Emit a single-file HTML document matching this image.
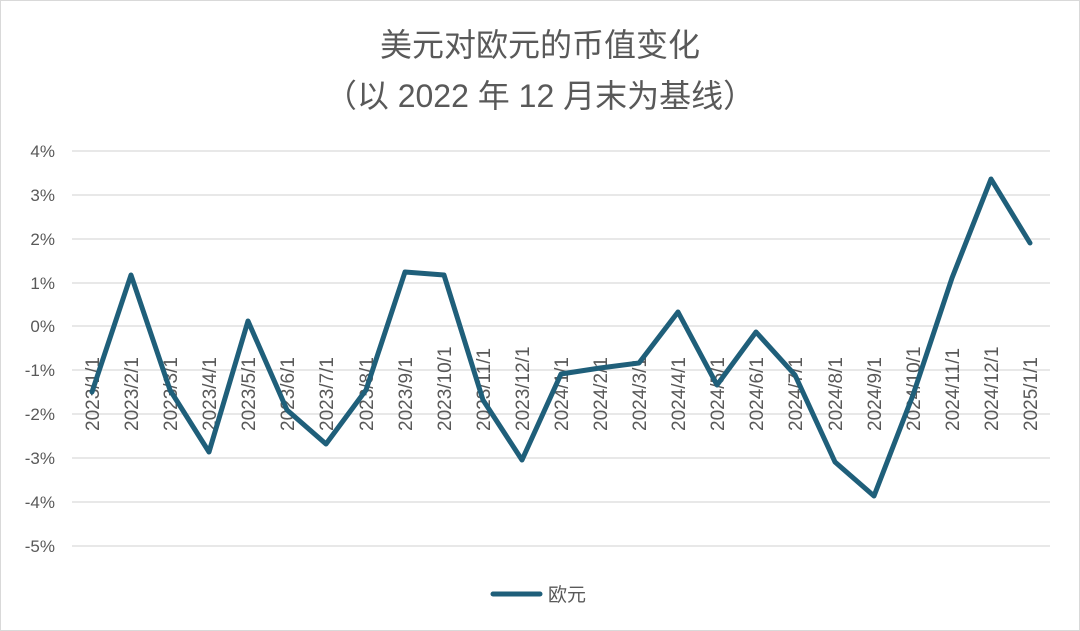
<!DOCTYPE html>
<html><head><meta charset="utf-8"><style>
html,body{margin:0;padding:0;background:#fff}
svg{display:block}
text{font-family:"Liberation Sans","Noto Sans CJK SC",sans-serif}
</style></head><body>
<svg width="1080" height="631" viewBox="0 0 1080 631">
<rect x="0.5" y="0.5" width="1079" height="630" fill="#fff" stroke="#d9d9d9"/>
<text x="540" y="56" font-size="32" fill="#595959" text-anchor="middle">美元对欧元的币值变化</text>
<text x="540" y="107" font-size="32" fill="#595959" text-anchor="middle">（以 2022 年 12 月末为基线）</text>
<g stroke="#d9d9d9" stroke-width="1.3">
<line x1="72" x2="1050" y1="151" y2="151"/><line x1="72" x2="1050" y1="195" y2="195"/>
<line x1="72" x2="1050" y1="239" y2="239"/><line x1="72" x2="1050" y1="283" y2="283"/>
<line x1="72" x2="1050" y1="326" y2="326"/><line x1="72" x2="1050" y1="370" y2="370"/>
<line x1="72" x2="1050" y1="414" y2="414"/><line x1="72" x2="1050" y1="458" y2="458"/>
<line x1="72" x2="1050" y1="502" y2="502"/><line x1="72" x2="1050" y1="546" y2="546"/>
</g>
<g font-size="17" fill="#595959" text-anchor="end">
<text x="55" y="157">4%</text><text x="55" y="201">3%</text><text x="55" y="245">2%</text>
<text x="55" y="289">1%</text><text x="55" y="332">0%</text><text x="55" y="376">-1%</text>
<text x="55" y="420">-2%</text><text x="55" y="464">-3%</text><text x="55" y="508">-4%</text>
<text x="55" y="552">-5%</text>
</g>
<g font-size="19" fill="#595959" text-anchor="start">
<text transform="translate(99,431) rotate(-90)">2023/1/1</text>
<text transform="translate(138,431) rotate(-90)">2023/2/1</text>
<text transform="translate(177,431) rotate(-90)">2023/3/1</text>
<text transform="translate(216,431) rotate(-90)">2023/4/1</text>
<text transform="translate(255,431) rotate(-90)">2023/5/1</text>
<text transform="translate(294,431) rotate(-90)">2023/6/1</text>
<text transform="translate(333,431) rotate(-90)">2023/7/1</text>
<text transform="translate(373,431) rotate(-90)">2023/8/1</text>
<text transform="translate(412,431) rotate(-90)">2023/9/1</text>
<text transform="translate(451,431) rotate(-90)">2023/10/1</text>
<text transform="translate(490,431) rotate(-90)">2023/11/1</text>
<text transform="translate(529,431) rotate(-90)">2023/12/1</text>
<text transform="translate(568,431) rotate(-90)">2024/1/1</text>
<text transform="translate(607,431) rotate(-90)">2024/2/1</text>
<text transform="translate(646,431) rotate(-90)">2024/3/1</text>
<text transform="translate(685,431) rotate(-90)">2024/4/1</text>
<text transform="translate(724,431) rotate(-90)">2024/5/1</text>
<text transform="translate(763,431) rotate(-90)">2024/6/1</text>
<text transform="translate(802,431) rotate(-90)">2024/7/1</text>
<text transform="translate(842,431) rotate(-90)">2024/8/1</text>
<text transform="translate(881,431) rotate(-90)">2024/9/1</text>
<text transform="translate(920,431) rotate(-90)">2024/10/1</text>
<text transform="translate(959,431) rotate(-90)">2024/11/1</text>
<text transform="translate(998,431) rotate(-90)">2024/12/1</text>
<text transform="translate(1037,431) rotate(-90)">2025/1/1</text>
</g>
<polyline fill="none" stroke="#1f5f7a" stroke-width="5" stroke-linejoin="round" stroke-linecap="round"
points="92,392 131,275 170,390 209,452 248,321 287,410 326,444 366,390 405,272 444,275 483,400 522,460 561,374 600,368 639,363 678,312 717,385 756,332 795,375 835,462 874,496 913,395 952,278 991,179 1030,243"/>
<line x1="493" x2="540" y1="594" y2="594" stroke="#1f5f7a" stroke-width="5" stroke-linecap="round"/>
<text x="548" y="601" font-size="19" fill="#595959">欧元</text>
</svg>
</body></html>
